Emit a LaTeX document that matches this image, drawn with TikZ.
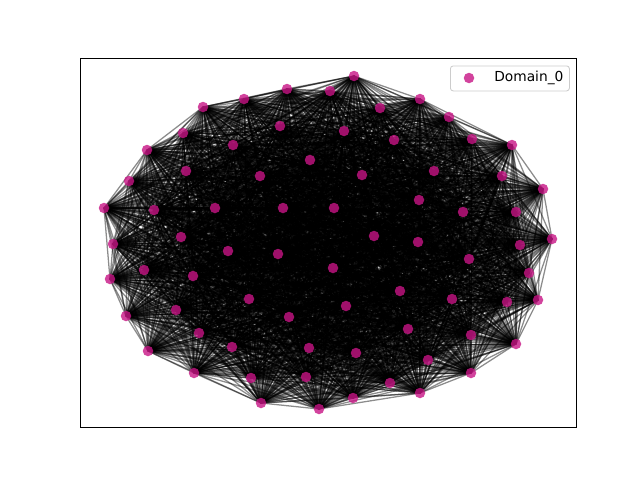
\documentclass[tikz,border=0pt]{standalone}
\usepackage{fontspec}
\setmainfont{DejaVu Sans}
\definecolor{nodecol}{RGB}{199,21,133}
\definecolor{legedge}{RGB}{204,204,204}
\tikzset{
  dot/.style={circle,fill=nodecol,fill opacity=0.8,inner sep=0pt,minimum size=10.5*0.025cm,draw=none},
  edge/.style={draw=black,opacity=0.45,line width=0.9pt},
  frame/.style={draw=black,line width=0.6pt},
  legendbox/.style={draw=legedge,fill=white,fill opacity=0.8,rounded corners=2pt,line width=0.6pt},
  legendtext/.style={anchor=west,font=\fontsize{9.8}{11}\selectfont,inner sep=0pt}
}
\begin{document}
\begin{tikzpicture}[x=0.025cm,y=-0.025cm]
\useasboundingbox (0,0) rectangle (640,480);
\fill[white] (0,0) rectangle (640,480);
\foreach \px/\py [count=\k] in {354/76,330/91,287/89,244/99,203/107,183/133,147/150,129/181,104/208,113/244,
110/279,126/316,148/351,194/373,251/378,261/403,306/377,319/409,353/398,390/383,
420/393,428/360,471/373,516/344,471/335,507/302,538/300,529/273,520/245,552/239,
516/212,543/189,502/176,512/145,472/139,449/117,420/99,380/108,394/140,344/131,
280/126,233/145,186/171,154/210,181/237,144/270,193/276,176/310,199/333,232/347,
249/299,289/317,309/348,356/353,346/306,400/291,408/329,452/299,469/259,418/242,
374/236,333/268,278/254,228/251,215/208,260/176,310/160,362/175,283/208,334/208,
419/200,434/171,463/212}
  \coordinate (p\k) at (\px,\py);
\foreach \i [evaluate=\i as \s using int(\i+1)] in {1,...,72}
  \foreach \j in {\s,...,73}
    \draw[edge] (p\i) -- (p\j);
\foreach \k in {1,...,73}
  \node[dot] (n\k) at (p\k) {};
\draw[frame] (80,58) rectangle (576,427);
\node[legendbox,minimum width=119*0.025cm,minimum height=25*0.025cm,anchor=north west] (leg) at (450,65.5) {};
\node[dot] (legdot) at (469,78) {};
\node[legendtext] (legtxt) at (494,78) {Domain\_0};
\end{tikzpicture}
\end{document}
